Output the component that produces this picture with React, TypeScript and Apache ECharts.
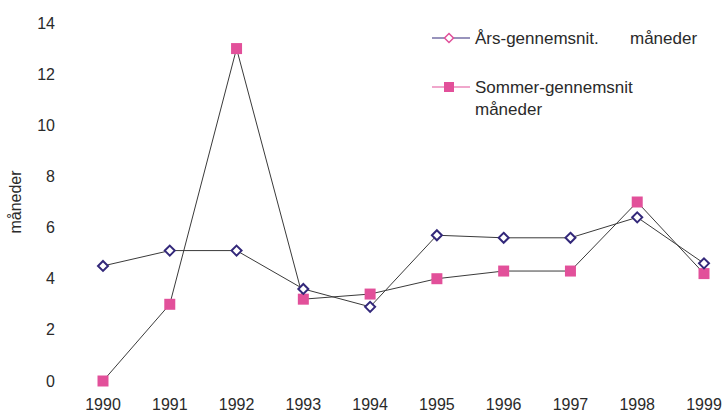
import React, { useEffect, useRef } from "react";
import * as echarts from "echarts";

const years = ["1990", "1991", "1992", "1993", "1994", "1995", "1996", "1997", "1998", "1999"];
const aarsGennemsnit = [4.5, 5.1, 5.1, 3.6, 2.9, 5.7, 5.6, 5.6, 6.4, 4.6];
const sommerGennemsnit = [0, 3.0, 13.0, 3.2, 3.4, 4.0, 4.3, 4.3, 7.0, 4.2];
const yTicks = { min: 0, max: 14, interval: 2 };
const yAxisName = "måneder";
const legend1a = "Års-gennemsnit.";
const legend1b = "måneder";
const legend2a = "Sommer-gennemsnit";
const legend2b = "måneder";

const NAVY = "#33287a";
const PINK = "#e2509a";
const FONT = "'Liberation Sans', Arial, sans-serif";
const TXT = "#2a2a2a";

export default function App() {
  const ref = useRef<HTMLDivElement>(null);
  useEffect(() => {
    if (!ref.current) return;
    const chart = echarts.init(ref.current, undefined, { renderer: "svg" });
    chart.setOption({
      animation: false,
      backgroundColor: "#ffffff",
      grid: { left: 103, right: 20, top: 23, bottom: 33, containLabel: false, outerBoundsMode: "none" },
      xAxis: {
        type: "category",
        data: years,
        boundaryGap: false,
        axisLine: { show: false },
        axisTick: { show: false },
        splitLine: { show: false },
        axisLabel: { color: TXT, fontSize: 16, fontFamily: FONT, margin: 15 },
      },
      yAxis: {
        type: "value",
        min: yTicks.min,
        max: yTicks.max,
        interval: yTicks.interval,
        axisLine: { show: false },
        axisTick: { show: false },
        splitLine: { show: false },
        axisLabel: { color: TXT, fontSize: 16, fontFamily: FONT, margin: 48 },
        name: yAxisName,
        nameLocation: "middle",
        nameRotate: 90,
        nameGap: 80,
        nameMoveOverlap: false,
        nameTextStyle: { color: TXT, fontSize: 16, fontFamily: FONT },
      },
      series: [
        {
          name: legend1a,
          type: "line",
          data: aarsGennemsnit,
          symbol: "diamond",
          symbolSize: 10,
          z: 3,
          lineStyle: { color: "#3a3a3a", width: 1 },
          itemStyle: { color: "#ffffff", borderColor: NAVY, borderWidth: 2 },
        },
        {
          name: legend2a,
          type: "line",
          data: sommerGennemsnit,
          symbol: "rect",
          symbolSize: 11,
          z: 2,
          lineStyle: { color: "#3a3a3a", width: 1 },
          itemStyle: { color: PINK },
        },
      ],
      graphic: [
        { type: "line", shape: { x1: 432, y1: 38, x2: 470, y2: 38 }, style: { stroke: NAVY, lineWidth: 1.2 } },
        {
          type: "polygon",
          shape: { points: [[449, 33.5], [453.5, 38], [449, 42.5], [444.5, 38]] },
          style: { fill: "#ffffff", stroke: "#e0509a", lineWidth: 1.5 },
        },
        { type: "text", x: 475, y: 38, style: { text: legend1a, font: `17px ${FONT}`, fill: TXT, textVerticalAlign: "middle" } },
        { type: "text", x: 630, y: 38, style: { text: legend1b, font: `17px ${FONT}`, fill: TXT, textVerticalAlign: "middle" } },
        { type: "line", shape: { x1: 432, y1: 87, x2: 470, y2: 87 }, style: { stroke: PINK, lineWidth: 1.2 } },
        { type: "rect", shape: { x: 444, y: 82, width: 10, height: 10 }, style: { fill: PINK } },
        { type: "text", x: 475, y: 87, style: { text: legend2a, font: `17px ${FONT}`, fill: TXT, textVerticalAlign: "middle" } },
        { type: "text", x: 475, y: 109, style: { text: legend2b, font: `17px ${FONT}`, fill: TXT, textVerticalAlign: "middle" } },
      ],
    });
    return () => chart.dispose();
  }, []);
  return <div ref={ref} style={{ width: 724, height: 414, position: "absolute", left: 0, top: 0 }} />;
}
